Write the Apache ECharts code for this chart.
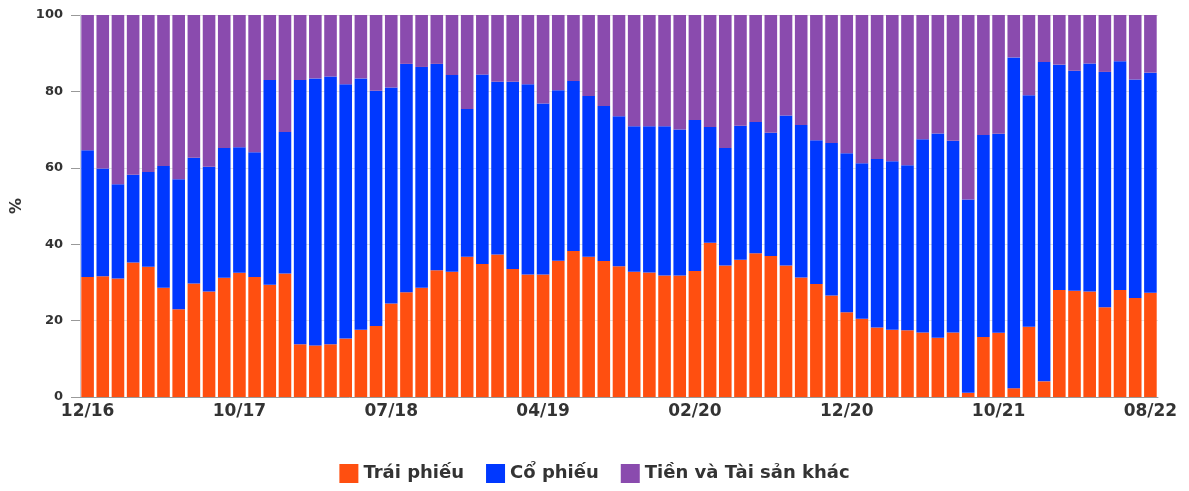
<!DOCTYPE html>
<html>
<head>
<meta charset="utf-8">
<script src="https://cdn.jsdelivr.net/npm/echarts@6/dist/echarts.min.js"></script>
<style>
  html, body { margin: 0; padding: 0; background: #fff; }
  #chart { width: 1189px; height: 491px; }
</style>
</head>
<body>
<div id="chart"></div>
<script>
// Cơ cấu tài sản theo tháng (%), 71 kỳ báo cáo
const categories = [
  '12/16', '01/17', '02/17', '03/17', '04/17', '05/17', '06/17', '07/17', '08/17', '09/17',
  '10/17', '11/17', '12/17', '12/17b', '01/18', '02/18', '03/18', '04/18', '05/18', '06/18',
  '07/18', '08/18', '09/18', '10/18', '11/18', '12/18', '12/18b', '01/19', '02/19', '03/19',
  '04/19', '05/19', '06/19', '07/19', '08/19', '09/19', '10/19', '11/19', '12/19', '01/20',
  '02/20', '03/20', '04/20', '05/20', '06/20', '07/20', '08/20', '09/20', '10/20', '11/20',
  '12/20', '01/21', '02/21', '03/21', '04/21', '05/21', '06/21', '07/21', '08/21', '09/21',
  '10/21', '11/21', '12/21', '01/22', '02/22', '03/22', '04/22', '05/22', '06/22', '07/22',
  '08/22'
];
const tickLabels = ['12/16', '10/17', '07/18', '04/19', '02/20', '12/20', '10/21', '08/22'];

const traiPhieu = [
  31.4, 31.6, 31.0, 35.2, 34.1, 28.6, 23.0, 29.7, 27.6, 31.2,
  32.5, 31.4, 29.4, 32.3, 13.8, 13.5, 13.8, 15.3, 17.6, 18.6,
  24.5, 27.4, 28.6, 33.2, 32.8, 36.7, 34.8, 37.3, 33.5, 32.1,
  32.1, 35.7, 38.2, 36.7, 35.6, 34.2, 32.8, 32.6, 31.8, 31.8,
  33.0, 40.4, 34.4, 35.9, 37.6, 36.9, 34.4, 31.3, 29.6, 26.6,
  22.2, 20.5, 18.2, 17.6, 17.5, 16.9, 15.5, 16.9, 1.1, 15.7,
  16.8, 2.3, 18.4, 4.1, 28.0, 27.8, 27.6, 23.5, 28.0, 25.9,
  27.3
];
// đỉnh cộng dồn Trái phiếu + Cổ phiếu
const tongTpCp = [
  64.6, 59.8, 55.7, 58.2, 58.9, 60.5, 57.0, 62.6, 60.3, 65.2,
  65.4, 64.1, 83.0, 69.4, 83.0, 83.4, 83.9, 81.9, 83.4, 80.2,
  81.0, 87.2, 86.4, 87.2, 84.3, 75.4, 84.4, 82.5, 82.5, 81.9,
  76.8, 80.3, 82.7, 78.8, 76.2, 73.5, 70.9, 70.9, 70.9, 70.0,
  72.5, 70.7, 65.2, 71.0, 72.0, 69.2, 73.7, 71.2, 67.2, 66.5,
  63.8, 61.2, 62.3, 61.7, 60.7, 67.5, 69.0, 67.1, 51.7, 68.6,
  68.9, 88.9, 79.0, 87.7, 87.0, 85.4, 87.3, 85.1, 87.9, 83.1,
  84.9
];
const coPhieu = tongTpCp.map((t, i) => +(t - traiPhieu[i]).toFixed(1));
const tienKhac = tongTpCp.map(t => +(100 - t).toFixed(1));

const FONT = '"DejaVu Sans", Verdana, sans-serif';
const TEXT = '#333333';

const chart = echarts.init(document.getElementById('chart'));

chart.setOption({
  animation: false,
  backgroundColor: '#ffffff',
  grid: { left: 80, right: 31, top: 15, bottom: 94 },
  legend: {
    bottom: 3,
    left: 'center',
    itemWidth: 19,
    itemHeight: 19,
    itemGap: 22,
    icon: 'rect',
    textStyle: { fontFamily: FONT, fontSize: 18, fontWeight: 'bold', color: TEXT },
    data: ['Trái phiếu', 'Cổ phiếu', 'Tiền và Tài sản khác'],
  },
  xAxis: {
    type: 'category',
    data: categories,
    axisLine: { lineStyle: { color: '#999999', width: 1 } },
    axisTick: { interval: 9, alignWithLabel: true, length: 5, lineStyle: { color: '#999999' } },
    axisLabel: {
      interval: 9,
      margin: 6,
      fontFamily: FONT,
      fontSize: 17,
      fontWeight: 'bold',
      color: TEXT,
      formatter: (v, i) => tickLabels[i / 10] || '',
    },
  },
  yAxis: {
    type: 'value',
    min: 0,
    max: 100,
    interval: 20,
    name: '%',
    nameLocation: 'middle',
    nameGap: 54,
    nameTextStyle: { fontFamily: FONT, fontSize: 16, fontWeight: 'bold', color: TEXT },
    axisLine: { show: true, lineStyle: { color: '#c8c8d8' } },
    axisTick: { show: true, length: 9, lineStyle: { color: '#999999' } },
    axisLabel: { margin: 17, fontFamily: FONT, fontSize: 13, fontWeight: 'bold', color: TEXT },
    splitLine: { lineStyle: { color: '#e4e4e4' } },
  },
  series: [
    { name: 'Trái phiếu', type: 'bar', stack: 'a', data: traiPhieu, barCategoryGap: '17%', itemStyle: { color: '#ff4f10' } },
    { name: 'Cổ phiếu', type: 'bar', stack: 'a', data: coPhieu, itemStyle: { color: '#0038ff' } },
    { name: 'Tiền và Tài sản khác', type: 'bar', stack: 'a', data: tienKhac, itemStyle: { color: '#8a4bae' } },
  ],
});
</script>
</body>
</html>
